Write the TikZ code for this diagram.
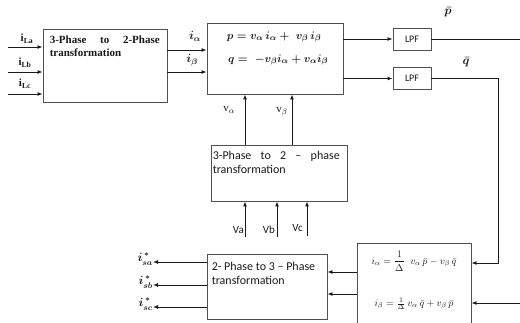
\documentclass[tikz,border=0pt]{standalone}
\usepackage{amsmath}
\usepackage{fontspec}
\setmainfont{Liberation Serif}
\setsansfont{Carlito}
\usetikzlibrary{arrows.meta,positioning}
\definecolor{diagink}{HTML}{1A1A1A}
\definecolor{diagframe}{HTML}{505050}

\begin{document}
\begin{tikzpicture}[
  x=1pt,
  y=-1pt,
  every node/.style={text=diagink},
  blockbox/.style={draw=diagframe, line width=0.9pt, inner sep=0pt},
  lpfbox/.style={draw=diagframe, line width=0.9pt, minimum width=38pt, minimum height=22pt,
                 inner sep=0pt, font=\sffamily\fontsize{10}{12}\selectfont},
  sig/.style={diagink, line width=0.9pt, -{Latex[length=5pt, width=4pt]}},
  wire/.style={diagink, line width=0.9pt},
  siglab/.style={inner sep=0pt, font=\fontsize{12}{14}\selectfont},
  serifhead/.style={inner sep=0pt, align=left, anchor=north west, font=\bfseries\fontsize{11}{13}\selectfont},
  sanshead/.style={inner sep=0pt, align=left, anchor=north west, font=\sffamily\fontsize{12}{14}\selectfont},
  eqn/.style={inner sep=0pt, font=\fontsize{11}{13}\selectfont}
]
  % ---- page of the same size as the reference ----
  \clip (0,0) rectangle (520,323);

  % ---- blocks ----
  \node[blockbox, minimum width=124pt, minimum height=73pt] (abc2ab) at (105,65.5) {};
  \node[blockbox, minimum width=136pt, minimum height=71pt] (pqcalc) at (275,58.5) {};
  \node[lpfbox] (lpfp) at (412,39) {LPF};
  \node[lpfbox] (lpfq) at (412,78.5) {LPF};
  \node[blockbox, minimum width=136pt, minimum height=56pt] (vabc2ab) at (279,173) {};
  \node[blockbox, minimum width=120pt, minimum height=65pt] (ab2abc) at (267,286.5) {};
  \node[blockbox, minimum width=114pt, minimum height=92pt] (refcalc) at (414,289) {};

  % ---- texts in the blocks ----
  \node[serifhead, text width=110pt] (abchead) at ([xshift=7pt, yshift=-7pt]abc2ab.north west)
    {3-Phase\hfill to\hfill 2-Phase\\transformation};
  \node[eqn] (peq) at (274,37) {$\boldsymbol{p = v_\alpha\, i_\alpha + \; v_\beta\, i_\beta}$};
  \node[eqn] (qeq) at (278,60) {$\boldsymbol{q = \;-v_\beta i_\alpha + v_\alpha i_\beta}$};
  \node[sanshead, text width=127pt] (vhead) at ([xshift=2pt, yshift=-6pt]vabc2ab.north west)
    {3-Phase\hfill to\hfill 2\hfill --\hfill phase\\transformation};
  \node[sanshead] (ihead) at ([xshift=5pt, yshift=-8pt]ab2abc.north west)
    {2- Phase to 3 -- Phase\\transformation};
  \node[eqn, font=\fontsize{10}{12}\selectfont] (iaeq) at (414,261)
    {$i_\alpha = \dfrac{1}{\Delta}\;\; v_\alpha\,\bar{p} - v_\beta\,\bar{q}$};
  \node[eqn, font=\fontsize{10}{12}\selectfont] (ibeq) at (414,304)
    {$i_\beta = \tfrac{1}{\Delta}\, v_\alpha\,\bar{q} + v_\beta\,\bar{p}$};

  % ---- load currents into the first transformation ----
  \coordinate (ila) at (8,47);
  \coordinate (ilb) at (8,72);
  \coordinate (ilc) at (8,94);
  \foreach \c in {ila,ilb,ilc}
    \draw[sig] (\c) -- (\c -| abc2ab.west);
  \node[siglab, font=\bfseries\fontsize{11}{13}\selectfont] (ilalab) at (27,39) {i\textsubscript{La}};
  \node[siglab, font=\bfseries\fontsize{11}{13}\selectfont] (ilblab) at (25,63) {i\textsubscript{Lb}};
  \node[siglab, font=\bfseries\fontsize{11}{13}\selectfont] (ilclab) at (25,84) {i\textsubscript{Lc}};

  % ---- alpha-beta currents ----
  \draw[sig] ([yshift=15.5pt]abc2ab.east) -- ([yshift=15.5pt]abc2ab.east -| pqcalc.west);
  \draw[sig] ([yshift=-6.5pt]abc2ab.east) -- ([yshift=-6.5pt]abc2ab.east -| pqcalc.west);
  \node[siglab] (ialab) at (195,36) {$\boldsymbol{i_\alpha}$};
  \node[siglab] (iblab) at (192,60) {$\boldsymbol{i_\beta}$};

  % ---- powers through the filters ----
  \draw[sig] (lpfp.west -| pqcalc.east) -- (lpfp.west);
  \draw[sig] (lpfq.west -| pqcalc.east) -- (lpfq.west);
  \coordinate (pout) at (520,39);
  \draw[wire] (lpfp.east) -- (pout);
  \node[siglab] (pbar) at (448,12) {$\boldsymbol{\bar{p}}$};
  \node[siglab] (qbar) at (466,62) {$\boldsymbol{\bar{q}}$};
  \coordinate (qturn) at (498,263);
  \draw[sig] (lpfq.east) -| (qturn) -- (qturn -| refcalc.east);
  \coordinate (pin) at (520,303);
  \draw[sig] (pin) -- (pin -| refcalc.east);

  % ---- alpha-beta voltages ----
  \draw[sig] ([xshift=-34pt]vabc2ab.north) -- ([xshift=-34pt]vabc2ab.north |- pqcalc.south);
  \draw[sig] ([xshift=13pt]vabc2ab.north) -- ([xshift=13pt]vabc2ab.north |- pqcalc.south);
  \node[siglab, font=\fontsize{11}{13}\selectfont] (valab) at (229,110) {$\mathrm{v}_\alpha$};
  \node[siglab, font=\fontsize{11}{13}\selectfont] (vblab) at (282,112) {$\mathrm{v}_\beta$};

  % ---- phase voltages ----
  \coordinate (va) at (245,237);
  \coordinate (vb) at (277,237);
  \coordinate (vc) at (307,236);
  \foreach \c in {va,vb,vc}
    \draw[sig] (\c) -- (\c |- vabc2ab.south);
  \node[siglab, anchor=east, font=\sffamily\fontsize{11}{13}\selectfont] (valbl) at (244,230) {Va};
  \node[siglab, anchor=east, font=\sffamily\fontsize{11}{13}\selectfont] (vblbl) at (275,230) {Vb};
  \node[siglab, anchor=east, font=\sffamily\fontsize{11}{13}\selectfont] (vclbl) at (303,228) {Vc};

  % ---- reference currents ----
  \draw[sig] ([yshift=17pt]refcalc.west) -- ([yshift=17pt]refcalc.west -| ab2abc.east);
  \draw[sig] ([yshift=-5pt]refcalc.west) -- ([yshift=-5pt]refcalc.west -| ab2abc.east);
  \coordinate (isa) at (153,262);
  \coordinate (isb) at (153,285);
  \coordinate (isc) at (153,307);
  \foreach \c in {isa,isb,isc}
    \draw[sig] (\c -| ab2abc.west) -- (\c);
  \node[siglab, anchor=east] (isalab) at (153,259) {$\boldsymbol{i_{sa}^{\,*}}$};
  \node[siglab, anchor=east] (isblab) at (153,282) {$\boldsymbol{i_{sb}^{\,*}}$};
  \node[siglab, anchor=east] (isclab) at (153,304) {$\boldsymbol{i_{sc}^{\,*}}$};
\end{tikzpicture}
\end{document}
